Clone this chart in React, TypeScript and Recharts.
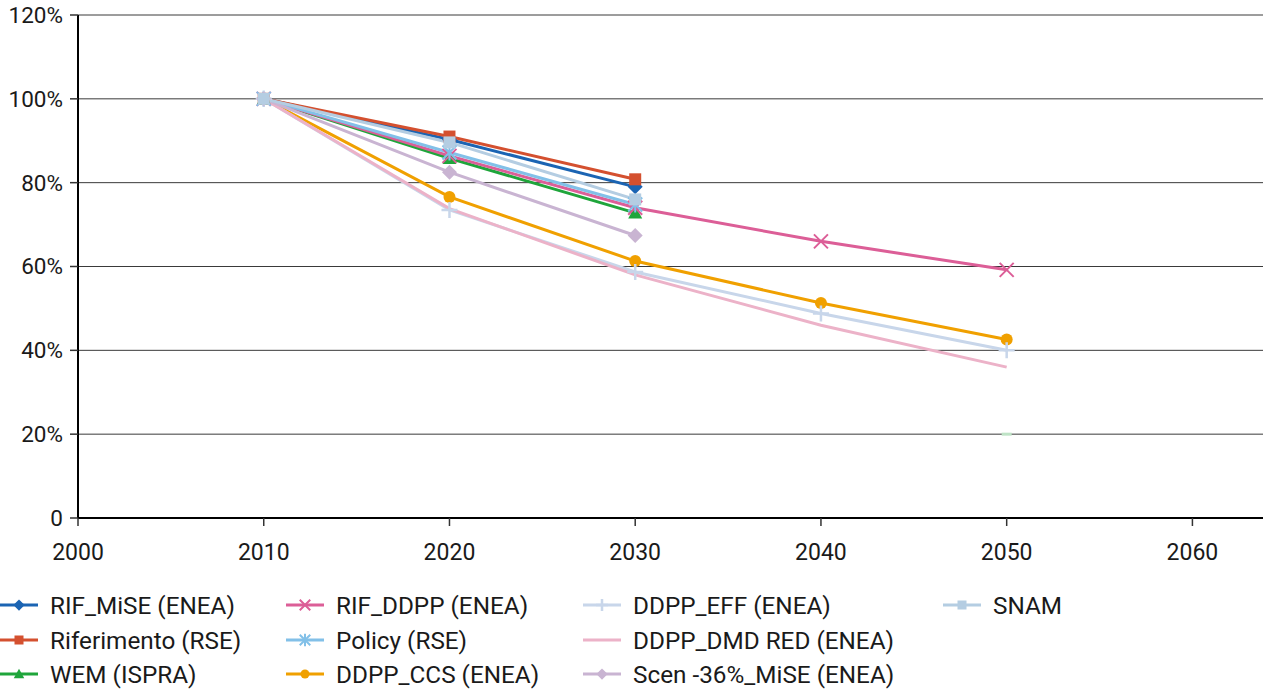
import React from "react";
import { LineChart, Line, XAxis, YAxis, CartesianGrid, Legend } from "recharts";

// years on the x axis
const years = [2010, 2020, 2030, 2040, 2050];
const xTicks = [2000, 2010, 2020, 2030, 2040, 2050, 2060];
const yTicks = [0, 20, 40, 60, 80, 100, 120];

// emissions index, % of 2010
const rifMise = [100, 90.3, 79.0, null, null];
const riferimento = [100, 91.0, 80.8, null, null];
const wem = [100, 85.8, 72.8, null, null];
const rifDdpp = [100, 86.4, 74.0, 66.0, 59.2];
const policy = [100, 87.2, 74.8, null, null];
const ddppCcs = [100, 76.6, 61.3, 51.3, 42.6];
const ddppEff = [100, 73.5, 58.7, 48.8, 40.0];
const ddppDmd = [100, 73.8, 58.0, 46.0, 36.0];
const scen36 = [100, 82.5, 67.4, null, null];
const snam = [100, 89.6, 76.0, null, null];
const target = [null, null, null, null, 20];

type Shape = "diamond" | "square" | "triangle" | "x" | "asterisk" | "circle" | "plus" | "none" | "dash";

const series: { key: string; name: string; color: string; shape: Shape; values: (number | null)[] }[] = [
  { key: "rifMise", name: "RIF_MiSE (ENEA)", color: "#1b64b3", shape: "diamond", values: rifMise },
  { key: "riferimento", name: "Riferimento (RSE)", color: "#d4502f", shape: "square", values: riferimento },
  { key: "wem", name: "WEM (ISPRA)", color: "#1fa53b", shape: "triangle", values: wem },
  { key: "rifDdpp", name: "RIF_DDPP (ENEA)", color: "#dc5e97", shape: "x", values: rifDdpp },
  { key: "policy", name: "Policy (RSE)", color: "#82c0e8", shape: "asterisk", values: policy },
  { key: "ddppCcs", name: "DDPP_CCS (ENEA)", color: "#f0a000", shape: "circle", values: ddppCcs },
  { key: "ddppEff", name: "DDPP_EFF (ENEA)", color: "#c8d6ea", shape: "plus", values: ddppEff },
  { key: "ddppDmd", name: "DDPP_DMD RED (ENEA)", color: "#ecb2c8", shape: "none", values: ddppDmd },
  { key: "scen36", name: "Scen -36%_MiSE (ENEA)", color: "#c9b4d2", shape: "diamond", values: scen36 },
  { key: "snam", name: "SNAM", color: "#b4cde2", shape: "square", values: snam },
];

// columns of the legend, top to bottom
const legendColumns = [
  ["rifMise", "riferimento", "wem"],
  ["rifDdpp", "policy", "ddppCcs"],
  ["ddppEff", "ddppDmd", "scen36"],
  ["snam"],
];

const data = years.map((year, i) => {
  const row: Record<string, number | null> = { year };
  series.forEach(s => (row[s.key] = s.values[i]));
  row.target = target[i];
  return row;
});

const FONT = "Roboto, sans-serif";
const TEXT = "#1a1a1a";

function marker(shape: Shape, cx: number, cy: number, color: string, key?: string | number, small = false) {
  const k = small ? 0.75 : 1;
  switch (shape) {
    case "diamond": {
      const r = 7.5 * k;
      return <path key={key} d={`M${cx},${cy - r}L${cx + r},${cy}L${cx},${cy + r}L${cx - r},${cy}Z`} fill={color} />;
    }
    case "square": {
      const r = 6 * k;
      return <rect key={key} x={cx - r} y={cy - r} width={2 * r} height={2 * r} fill={color} />;
    }
    case "triangle": {
      const r = 7 * k;
      return <path key={key} d={`M${cx},${cy - r}L${cx + r},${cy + r * 0.8}L${cx - r},${cy + r * 0.8}Z`} fill={color} />;
    }
    case "circle":
      return <circle key={key} cx={cx} cy={cy} r={6 * k} fill={color} />;
    case "x": {
      const r = 7 * k;
      return (
        <path key={key} d={`M${cx - r},${cy - r}L${cx + r},${cy + r}M${cx - r},${cy + r}L${cx + r},${cy - r}`}
          stroke={color} strokeWidth={2} fill="none" />
      );
    }
    case "asterisk": {
      const r = 7 * k;
      return (
        <path key={key}
          d={`M${cx - r},${cy - r}L${cx + r},${cy + r}M${cx - r},${cy + r}L${cx + r},${cy - r}M${cx},${cy - r - 1}L${cx},${cy + r + 1}`}
          stroke={color} strokeWidth={2} fill="none" />
      );
    }
    case "plus": {
      const r = 8 * k;
      return (
        <path key={key} d={`M${cx - r},${cy}L${cx + r},${cy}M${cx},${cy - r}L${cx},${cy + r}`}
          stroke={color} strokeWidth={2.5} fill="none" />
      );
    }
    case "dash":
      return <rect key={key} x={cx - 5} y={cy - 1.5} width={10} height={3} fill="#bfe3c6" />;
    default:
      return <g key={key} />;
  }
}

function makeDot(shape: Shape, color: string) {
  return (props: any) => {
    const { cx, cy, index, value } = props;
    if (value == null || cx == null || cy == null) return <g key={`e-${index}`} />;
    return marker(shape, cx, cy, color, `d-${index}`);
  };
}

function SeriesLegend() {
  const colX = [0, 286, 583, 943];
  const rowY = [605, 640, 674];
  return (
    <div style={{ position: "relative", width: 1263, height: 112, fontFamily: FONT, fontSize: 24.3, color: TEXT }}>
      {legendColumns.map((col, ci) =>
        col.map((key, ri) => {
          const s = series.find(x => x.key === key)!;
          return (
            <div key={key} style={{ position: "absolute", left: colX[ci], top: rowY[ri] - 578 - 15, height: 30, display: "flex", alignItems: "center", whiteSpace: "nowrap" }}>
              <svg width={38} height={20} style={{ marginRight: 12 }}>
                <line x1={0} y1={10} x2={38} y2={10} stroke={s.color} strokeWidth={3} />
                {marker(s.shape, 19, 10, s.color, undefined, true)}
              </svg>
              <span>{s.name}</span>
            </div>
          );
        })
      )}
    </div>
  );
}

export default function App() {
  return (
    <div style={{ position: "absolute", left: 0, top: 0 }}>
      <LineChart width={1263} height={690} data={data} margin={{ top: 15, right: 0, left: 0, bottom: 0 }}>
        <CartesianGrid vertical={false} stroke="#3a3a3a" strokeWidth={1} />
        <XAxis
          dataKey="year"
          type="number"
          domain={[2000, 2063.8]}
          ticks={xTicks}
          height={60}
          tickSize={8}
          tickMargin={18}
          stroke="#000"
          strokeWidth={2}
          tick={{ fill: TEXT, fontSize: 23, fontFamily: FONT }}
          tickLine={{ stroke: "#333", strokeWidth: 1.5 }}
        />
        <YAxis
          domain={[0, 120]}
          ticks={yTicks}
          width={78}
          tickSize={8}
          tickMargin={7}
          stroke="#000"
          strokeWidth={2}
          tickFormatter={(v: number) => (v === 0 ? "0" : `${v}%`)}
          tick={{ fill: TEXT, fontSize: 22.5, fontFamily: FONT }}
          tickLine={{ stroke: "#333", strokeWidth: 1.5 }}
        />
        <Legend verticalAlign="bottom" height={112} content={() => <SeriesLegend />} />
        {series.map(s => (
          <Line
            key={s.key}
            dataKey={s.key}
            name={s.name}
            stroke={s.color}
            strokeWidth={3}
            dot={makeDot(s.shape, s.color)}
            activeDot={false}
            isAnimationActive={false}
          />
        ))}
        <Line dataKey="target" stroke="none" legendType="none" dot={makeDot("dash", "#bfe3c6")} activeDot={false} isAnimationActive={false} />
      </LineChart>
    </div>
  );
}
